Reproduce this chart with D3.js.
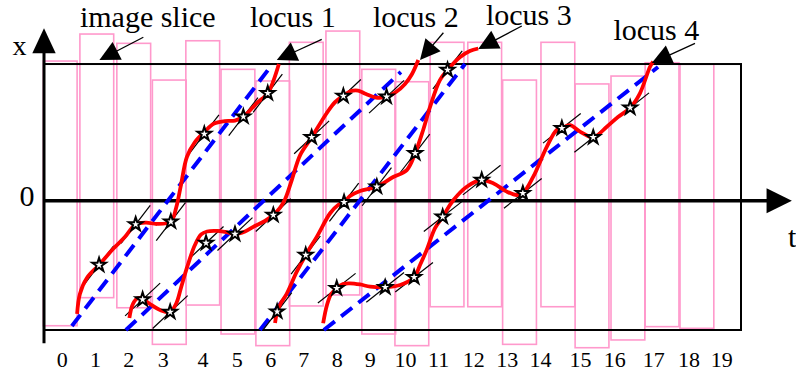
<!DOCTYPE html>
<html>
<head>
<meta charset="utf-8">
<script src="https://cdn.jsdelivr.net/npm/d3@7"></script>
<style>
  html, body { margin: 0; padding: 0; background: #fff; }
  svg { display: block; }
  svg text { font-family: "Liberation Serif", "Times New Roman", Times, "DejaVu Serif", serif; }
</style>
</head>
<body>
<svg width="796" height="372"></svg>
<script>
// t tick labels and where they sit on the time axis
var tickLabels = d3.range(20).map(String);
var tickPos = [0.51, 1.46, 2.42, 3.41, 4.55, 5.53, 6.49, 7.44, 8.40, 9.35,
               10.36, 11.31, 12.32, 13.28, 14.23, 15.38, 16.36, 17.48, 18.49, 19.43];

// image slices (start time, top and bottom in x)
var sliceStart = [-0.02, 1.03, 2.09, 3.11, 4.07, 5.08, 6.08, 7.04, 8.09, 9.12,
                  10.07, 11.08, 12.16, 13.16, 14.26, 15.24, 16.27, 17.25, 18.25];
var sliceTop = [10.80, 12.89, 12.17, 9.33, 12.37, 10.16, 9.26, 12.25, 13.12, 10.16,
                9.20, 12.25, 12.25, 9.33, 12.25, 9.03, 9.64, 10.67, 10.55];
var sliceBottom = [-9.67, -7.50, -8.28, -11.11, -8.07, -10.31, -11.21, -8.14, -7.29, -10.31,
                   -11.21, -8.20, -8.20, -11.11, -8.20, -11.37, -10.77, -9.74, -9.87];
var sliceWidth = 0.97;

// loci [t, x]
var locus1 = [[0.95,-8.76],[1.03,-7.22],[1.23,-5.98],[1.58,-4.97],[1.98,-3.74],[2.32,-2.81],
  [2.63,-1.83],[2.93,-1.69],[3.24,-1.80],[3.64,-1.62],[3.79,-0.56],[3.93,1.21],[4.10,3.38],
  [4.33,4.54],[4.60,5.31],[4.88,5.97],[5.19,6.16],[5.48,6.20],[5.72,6.50],[6.10,7.53],
  [6.42,8.31],[6.59,9.33],[6.74,10.57]];
var stars1 = [[1.58,-4.97],[2.63,-1.83],[3.64,-1.62],[4.60,5.16],[5.72,6.50],[6.42,8.31]];
var trend1 = [[0.80,-9.69],[6.54,10.50]];

var locus2 = [[2.45,-9.07],[2.55,-7.99],[2.70,-7.53],[2.83,-7.60],[3.04,-7.99],[3.33,-8.45],
  [3.62,-8.61],[3.80,-7.91],[3.93,-6.75],[4.10,-5.20],[4.33,-3.43],[4.51,-2.61],[4.68,-2.38],
  [4.99,-2.34],[5.28,-2.46],[5.48,-2.58],[5.77,-2.38],[6.05,-1.96],[6.34,-1.57],[6.58,-1.11],
  [6.77,-0.56],[6.92,0.13],[7.11,1.60],[7.35,3.53],[7.68,4.90],[8.11,6.76],[8.35,7.63],
  [8.59,8.10],[8.81,8.48],[9.01,8.52],[9.24,8.25],[9.53,7.98],[9.83,8.04],[10.10,8.41],
  [10.36,9.03],[10.56,9.80],[10.74,10.88]];
var stars2 = [[2.83,-7.64],[3.62,-8.61],[4.65,-3.27],[5.48,-2.58],[6.58,-1.11],[7.68,4.90],[8.59,8.10],[9.83,8.04]];
var trend2 = [[2.35,-10.0],[10.24,9.95]];

var locus3 = [[6.63,-9.46],[6.69,-8.61],[6.80,-7.91],[6.96,-7.22],[7.25,-5.51],[7.51,-4.20],
  [7.83,-2.78],[8.21,-0.97],[8.44,-0.33],[8.61,-0.12],[8.78,0.36],[9.07,0.75],[9.55,1.08],
  [10.02,1.83],[10.41,2.37],[10.65,3.67],[10.88,5.47],[11.08,7.27],[11.36,9.33],[11.58,10.11],
  [11.94,11.11],[12.22,11.58],[12.46,11.77]];
var stars3 = [[6.69,-8.58],[7.51,-4.20],[8.61,-0.12],[9.55,1.08],[10.65,3.67],[11.58,10.11]];
var trend3 = [[6.20,-10.0],[12.08,10.57]];

var locus4 = [[8.01,-9.48],[8.12,-8.07],[8.24,-7.22],[8.40,-6.77],[8.58,-6.44],[8.78,-6.39],
  [9.07,-6.48],[9.36,-6.65],[9.79,-6.70],[10.22,-6.52],[10.62,-5.92],[10.79,-4.97],[10.98,-3.81],
  [11.22,-2.13],[11.44,-1.24],[11.75,0.05],[12.13,1.08],[12.56,1.60],[12.89,1.35],[13.28,0.70],
  [13.56,0.44],[13.74,0.57],[14.04,1.86],[14.43,4.18],[14.71,5.47],[14.86,5.60],[15.09,5.85],
  [15.38,5.34],[15.76,4.90],[16.15,5.72],[16.47,6.47],[16.82,7.19],[17.10,8.31],[17.39,10.36],
  [17.48,10.75]];
var stars4 = [[8.40,-6.77],[9.79,-6.70],[10.62,-5.92],[11.44,-1.24],[12.56,1.60],[13.74,0.57],[14.86,5.60],[15.76,4.90],[16.82,7.19]];
var trend4 = [[8.03,-10.0],[17.62,10.34]];

// callouts
var annoLabels = ["image slice", "locus 1", "locus 2", "locus 3", "locus 4"];
var annoText = [[1.03,13.43],[5.91,13.43],[9.44,13.43],[12.68,13.59],[16.34,12.43]];
var annoTail = [[2.85,12.64],[7.97,12.48],[11.46,12.99],[13.71,13.51],[18.68,12.17]];
var annoTip = [[1.59,10.88],[6.68,10.88],[10.79,10.88],[12.46,11.73],[17.44,10.65]];

var svg = d3.select("svg");
var tScale = d3.scaleLinear().domain([0, 20]).range([44, 741]);
var yScale = d3.scaleLinear().domain([-10, 10]).range([330, 71.4]);
var xTop = 10.57;

function arrow(g, tail, tip, len, half, w) {
  var x1 = tScale(tail[0]), y1 = yScale(tail[1]);
  var x2 = tScale(tip[0]), y2 = yScale(tip[1]);
  var dx = x2 - x1, dy = y2 - y1, L = Math.hypot(dx, dy);
  var ux = dx / L, uy = dy / L;
  var bx = x2 - ux * len, by = y2 - uy * len;
  g.append("line")
    .attr("x1", x1).attr("y1", y1).attr("x2", bx + ux * 2).attr("y2", by + uy * 2)
    .attr("stroke", "#000").attr("stroke-width", w);
  g.append("path")
    .attr("d", "M" + x2 + "," + y2 + "L" + (bx - uy * half) + "," + (by + ux * half) +
               "L" + (bx + uy * half) + "," + (by - ux * half) + "Z")
    .attr("fill", "#000");
}

// slices
svg.append("g")
  .selectAll("rect")
  .data(sliceStart)
  .enter()
  .append("rect")
  .attr("x", function (d) { return tScale(d); })
  .attr("width", tScale(sliceWidth) - tScale(0))
  .attr("y", function (d, i) { return yScale(sliceTop[i]); })
  .attr("height", function (d, i) { return yScale(sliceBottom[i]) - yScale(sliceTop[i]); })
  .attr("fill", "none")
  .attr("stroke", "#ff99cc")
  .attr("stroke-width", 1.6);

// frame
svg.append("rect")
  .attr("x", tScale(0)).attr("y", yScale(xTop))
  .attr("width", tScale(20) - tScale(0))
  .attr("height", yScale(-10) - yScale(xTop))
  .attr("fill", "none").attr("stroke", "#000").attr("stroke-width", 2);

// axes with arrows
var axes = svg.append("g");
arrow(axes, [0, -11.03], [0, 13.33], 25, 11.7, 3);
arrow(axes, [0, 0], [21.46, 0], 25.3, 12.5, 3.5);

axes.append("text").attr("x", 19.5).attr("y", 55)
  .attr("text-anchor", "middle").attr("font-size", 28).text("x");
axes.append("text").attr("x", 27).attr("y", 206)
  .attr("text-anchor", "middle").attr("font-size", 30).text("0");
axes.append("text").attr("x", 788).attr("y", 247)
  .attr("font-size", 30).text("t");

var tAxis = d3.axisBottom(tScale)
  .tickValues(tickPos)
  .tickFormat(function (d, i) { return tickLabels[i]; })
  .tickSize(0)
  .tickPadding(21);
svg.append("g")
  .attr("transform", "translate(0," + yScale(-10) + ")")
  .call(tAxis)
  .attr("font-size", 22)
  .attr("font-family", null)
  .call(function (g) { g.select(".domain").remove(); })
  .selectAll("text").attr("fill", "#000");

var loci = [
  { path: locus1, stars: stars1, trend: trend1 },
  { path: locus2, stars: stars2, trend: trend2 },
  { path: locus3, stars: stars3, trend: trend3 },
  { path: locus4, stars: stars4, trend: trend4 }
];

var trendLine = d3.line()
  .x(function (d) { return tScale(d[0]); })
  .y(function (d) { return yScale(d[1]); });

var curve = d3.line()
  .x(function (d) { return tScale(d[0]); })
  .y(function (d) { return yScale(d[1]); })
  .curve(d3.curveCatmullRom.alpha(0.5));

// blue dashed trends
svg.append("g")
  .selectAll("path")
  .data(loci)
  .enter()
  .append("path")
  .attr("d", function (d) { return trendLine(d.trend); })
  .attr("fill", "none")
  .attr("stroke", "#0000ff")
  .attr("stroke-width", 4)
  .attr("stroke-dasharray", "14,8");

// short tangent strokes through each star, parallel to the trend
var tangents = [];
loci.forEach(function (l) {
  var ax = tScale(l.trend[0][0]), ay = yScale(l.trend[0][1]);
  var bx = tScale(l.trend[1][0]), by = yScale(l.trend[1][1]);
  var L = Math.hypot(bx - ax, by - ay);
  var ux = (bx - ax) / L, uy = (by - ay) / L;
  l.stars.forEach(function (s) {
    tangents.push({ x: tScale(s[0]), y: yScale(s[1]), ux: ux, uy: uy });
  });
});
svg.append("g")
  .selectAll("line")
  .data(tangents)
  .enter()
  .append("line")
  .attr("x1", function (d) { return d.x - d.ux * 24; })
  .attr("y1", function (d) { return d.y - d.uy * 24; })
  .attr("x2", function (d) { return d.x + d.ux * 24; })
  .attr("y2", function (d) { return d.y + d.uy * 24; })
  .attr("stroke", "#000")
  .attr("stroke-width", 1.2);

// red loci
svg.append("g")
  .selectAll("path")
  .data(loci)
  .enter()
  .append("path")
  .attr("d", function (d) { return curve(d.path); })
  .attr("fill", "none")
  .attr("stroke", "#ff0000")
  .attr("stroke-width", 3.8)
  .attr("stroke-linecap", "butt");

// stars
var allStars = d3.merge(loci.map(function (l) { return l.stars; }));
svg.append("g")
  .selectAll("path")
  .data(allStars)
  .enter()
  .append("path")
  .attr("transform", function (d) { return "translate(" + tScale(d[0]) + "," + yScale(d[1]) + ")"; })
  .attr("d", d3.symbol(d3.symbolStar).size(58))
  .attr("fill", "#fff")
  .attr("stroke", "#000")
  .attr("stroke-width", 2);

// callouts
var anno = svg.append("g");
annoLabels.forEach(function (lab, i) {
  arrow(anno, annoTail[i], annoTip[i], 20, 10, 1.3);
  anno.append("text")
    .attr("x", tScale(annoText[i][0]))
    .attr("y", yScale(annoText[i][1]))
    .attr("font-size", 30)
    .text(lab);
});
</script>
</body>
</html>
